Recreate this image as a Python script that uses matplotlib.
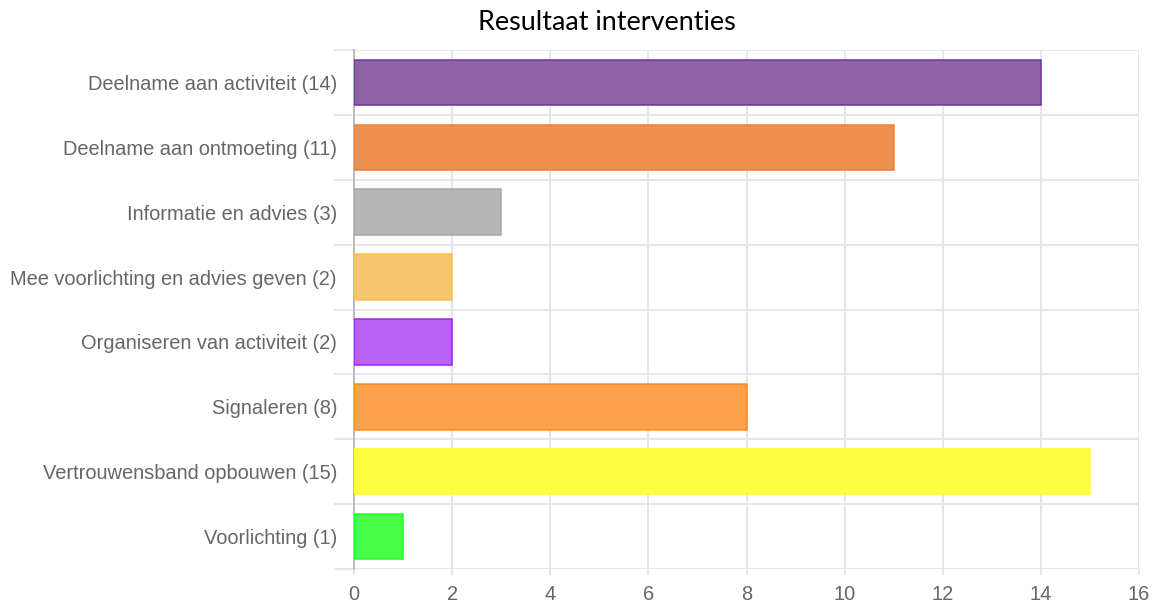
import matplotlib
matplotlib.use("Agg")
import matplotlib.pyplot as plt
from matplotlib.ticker import FixedLocator

categories = [
    "Deelname aan activiteit (14)",
    "Deelname aan ontmoeting (11)",
    "Informatie en advies (3)",
    "Mee voorlichting en advies geven (2)",
    "Organiseren van activiteit (2)",
    "Signaleren (8)",
    "Vertrouwensband opbouwen (15)",
    "Voorlichting (1)",
]
values = [14, 11, 3, 2, 2, 8, 15, 1]
fill_colors = ["#8F61A5", "#EE914F", "#B6B6B6", "#F8C66F", "#BA62F5", "#FCA24A", "#FDFD44", "#47FD47"]
edge_colors = ["#7030A0", "#ED7D31", "#A5A5A5", "#FFBE45", "#A020F0", "#FF8A1A", "#FFFF20", "#20FF20"]
x_ticks = [0, 2, 4, 6, 8, 10, 12, 14, 16]
title = "Resultaat interventies"

W, H, DPI = 1152, 603, 100
fig = plt.figure(figsize=(W / DPI, H / DPI), dpi=DPI)
left, right, top, bottom = 354, 1139, 50, 569
ax = fig.add_axes([left / W, 1 - bottom / H, (right - left) / W, (bottom - top) / H])

px = 72 / DPI  # points per pixel
grid_c = "#E4E4E4"
ypos = list(range(len(categories)))
ax.barh(ypos, values, height=0.70, color=fill_colors, edgecolor=edge_colors,
        linewidth=1.5 * px, zorder=3)

ax.set_xlim(0, 16)
ax.set_ylim(len(categories) - 0.5, -0.5)
ax.set_xticks(x_ticks)
ax.set_xticklabels([str(t) for t in x_ticks])
ax.set_yticks(ypos)
ax.set_yticklabels(categories)
ax.yaxis.set_minor_locator(FixedLocator([i - 0.5 for i in range(len(categories) + 1)]))

ax.grid(axis="x", which="major", color=grid_c, linewidth=1.8 * px, alpha=1, zorder=0)
ax.grid(axis="y", which="minor", color=grid_c, linewidth=1.8 * px, alpha=1, zorder=0)
ax.set_axisbelow(True)

for s in ["top", "right", "bottom"]:
    ax.spines[s].set_visible(False)
ax.spines["left"].set_color("#BDBDBD")
ax.spines["left"].set_linewidth(2 * px)

ax.tick_params(axis="y", which="major", length=0, pad=17 * px, labelsize=20 * px, labelcolor="#666666")
ax.tick_params(axis="y", which="minor", length=20 * px, width=1.8 * px, color=grid_c)
ax.tick_params(axis="x", which="major", length=6 * px, width=1.8 * px, color=grid_c,
               pad=10 * px, labelsize=20 * px, labelcolor="#666666")
for lab in ax.get_xticklabels() + ax.get_yticklabels():
    lab.set_fontfamily("Liberation Sans")

fig.text(607 / W, 1 - 22 / H, title, ha="center", va="center", fontsize=27 * px,
         family="Lato", color="black")

fig.savefig("out.png", dpi=DPI)
